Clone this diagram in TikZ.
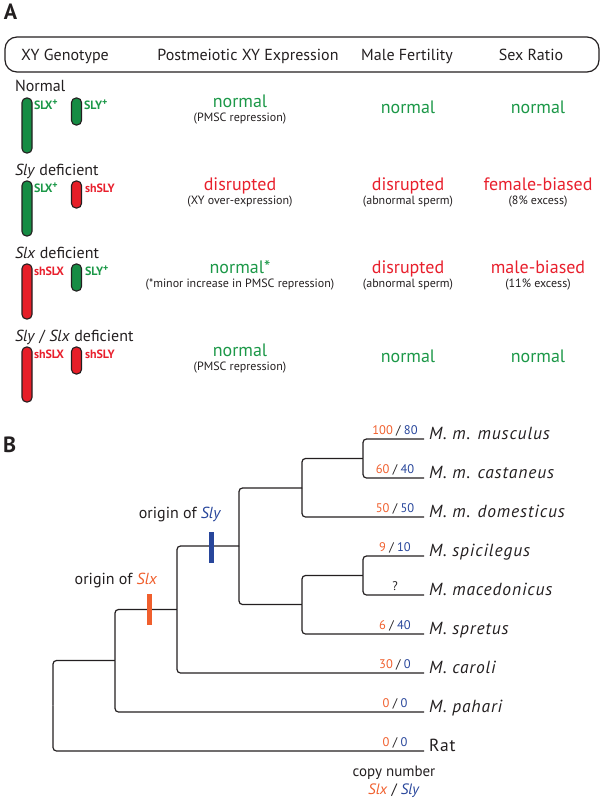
\documentclass[tikz,border=0pt]{standalone}
\usepackage{fontspec}
\setmainfont{PT Sans}
\newfontfamily\spacedfont[LetterSpace=5]{PT Sans}
\definecolor{ink}{RGB}{35,31,32}
\definecolor{tgreen}{RGB}{28,152,72}
\definecolor{cgreen}{RGB}{22,140,68}
\definecolor{tred}{RGB}{232,32,45}
\definecolor{cred}{RGB}{230,30,40}
\definecolor{corange}{RGB}{240,95,45}
\definecolor{cblue}{RGB}{40,70,155}
\newcommand\fpanel{\fontsize{22}{24}\bfseries\selectfont}
\newcommand\fhead{\fontsize{16}{19}\selectfont}
\newcommand\flab{\fontsize{16}{19}\selectfont}
\newcommand\fmainx{\fontsize{18}{21}\selectfont}
\newcommand\fsubx{\fontsize{12}{14}\selectfont}
\newcommand\fchr{\fontsize{12}{14}\bfseries\selectfont}
\newcommand\fsp{\spacedfont\fontsize{17.5}{20}\itshape\selectfont}
\newcommand\frat{\spacedfont\fontsize{17.5}{20}\selectfont}
\newcommand\fnum{\fontsize{12.5}{14}\selectfont}
\newcommand\plus{\raisebox{3.5pt}{\fontsize{10}{10}\selectfont +}}
\begin{document}
\begin{tikzpicture}[x=1pt,y=-1pt,
  txt/.style={inner sep=0pt, outer sep=0pt, text=ink},
  panel/.style={txt, anchor=base west, font=\fpanel},
  head/.style={txt, anchor=base, font=\fhead},
  rowlab/.style={txt, anchor=base west, font=\flab},
  mainok/.style={txt, anchor=base, font=\fmainx, text=tgreen},
  mainbad/.style={txt, anchor=base, font=\fmainx, text=tred},
  subt/.style={txt, anchor=base, font=\fsubx},
  chrlabg/.style={txt, anchor=base west, font=\fchr, text=tgreen},
  chrlabr/.style={txt, anchor=base west, font=\fchr, text=tred},
  chromo/.style={draw=ink, line width=1.1pt, rounded corners=4.5pt, minimum width=10pt, inner sep=0pt},
  branch/.style={draw=ink, line width=1.2pt, rounded corners=3.5pt},
  sp/.style={txt, anchor=base west, font=\fsp},
  num/.style={txt, anchor=base, font=\fnum},
  marker/.style={draw=none, minimum width=5pt, minimum height=31pt, inner sep=0pt}
]
\useasboundingbox (0,0) rectangle (606,800);

% ---------- Panel A ----------
\node[panel] (A) at (4,20) {A};
\node[draw=ink, line width=1.2pt, rounded corners=12pt, minimum width=594pt, minimum height=35pt, inner sep=0pt] (hbox) at (302,54.5) {};
\node[head] (h1) at (65,60.5) {XY Genotype};
\node[head] (h2) at (248,60.5) {Postmeiotic XY Expression};
\node[head] (h3) at (407,60.5) {Male Fertility};
\node[head] (h4) at (531,60.5) {Sex Ratio};

% Row 1: Normal
\node[rowlab] (l0) at (15,92) {Normal};
\node[chromo, fill=cgreen, minimum height=55pt] (x0) at (27,125.5) {};
\node[chromo, fill=cgreen, minimum height=27pt] (y0) at (76.5,111.5) {};
\node[chrlabg] (sx0) at (34,109) {SLX\plus};
\node[chrlabg] (sy0) at (84,109) {SLY\plus};
\node[mainok] (e0) at (240,107) {normal};
\node[subt] (es0) at (240,121) {(PMSC repression)};
\node[mainok] (f0) at (408,113) {normal};
\node[mainok] (r0) at (538,113) {normal};

% Row 2: Sly deficient
\node[rowlab] (l1) at (15,175) {\textit{Sly} deficient};
\node[chromo, fill=cgreen, minimum height=55pt] (x1) at (27,208.5) {};
\node[chromo, fill=cred, minimum height=27pt] (y1) at (76.5,194.5) {};
\node[chrlabg] (sx1) at (34,192) {SLX\plus};
\node[chrlabr] (sy1) at (85,192) {shSLY};
\node[mainbad] (e1) at (240,190) {disrupted};
\node[subt] (es1) at (240,204) {(XY over-expression)};
\node[mainbad] (f1) at (408,190) {disrupted};
\node[subt] (fs1) at (408,204) {(abnormal sperm)};
\node[mainbad] (r1) at (538,190) {female-biased};
\node[subt] (rs1) at (538,204) {(8\% excess)};

% Row 3: Slx deficient
\node[rowlab] (l2) at (15,258) {\textit{Slx} deficient};
\node[chromo, fill=cred, minimum height=55pt] (x2) at (27,291.5) {};
\node[chromo, fill=cgreen, minimum height=27pt] (y2) at (76.5,277.5) {};
\node[chrlabr] (sx2) at (34,275) {shSLX};
\node[chrlabg] (sy2) at (85,275) {SLY\plus};
\node[mainok] (e2) at (240,273) {normal*};
\node[subt] (es2) at (240,287) {(*minor increase in PMSC repression)};
\node[mainbad] (f2) at (408,273) {disrupted};
\node[subt] (fs2) at (408,287) {(abnormal sperm)};
\node[mainbad] (r2) at (538,273) {male-biased};
\node[subt] (rs2) at (538,287) {(11\% excess)};

% Row 4: Sly / Slx deficient
\node[rowlab] (l3) at (15,341) {\textit{Sly} / \textit{Slx} deficient};
\node[chromo, fill=cred, minimum height=55pt] (x3) at (27,374.5) {};
\node[chromo, fill=cred, minimum height=27pt] (y3) at (76.5,360.5) {};
\node[chrlabr] (sx3) at (34,358) {shSLX};
\node[chrlabr] (sy3) at (85,358) {shSLY};
\node[mainok] (e3) at (240,356) {normal};
\node[subt] (es3) at (240,370) {(PMSC repression)};
\node[mainok] (f3) at (408,362) {normal};
\node[mainok] (r3) at (538,362) {normal};

% ---------- Panel B ----------
\node[panel] (B) at (3,452) {B};

% leaf ends
\coordinate (lmus) at (424,439);
\coordinate (lcas) at (424,478);
\coordinate (ldom) at (424,517);
\coordinate (lspi) at (424,556);
\coordinate (lmac) at (424,595);
\coordinate (lspr) at (424,634);
\coordinate (lcar) at (424,673);
\coordinate (lpah) at (424,712);
\coordinate (lrat) at (424,751);
% internal nodes
\coordinate (nMC) at (363,458.5);
\coordinate (nMM) at (302,488);
\coordinate (nSM) at (363,575.5);
\coordinate (nSS) at (302,604.5);
\coordinate (nMS) at (239,546);
\coordinate (nCA) at (177,609.5);
\coordinate (nPA) at (115,660.5);
\coordinate (nRT) at (53,705.5);

\draw[branch] (nMC) |- (lmus);
\draw[branch] (nMC) |- (lcas);
\draw[branch] (nMM) |- (nMC);
\draw[branch] (nMM) |- (ldom);
\draw[branch] (nSM) |- (lspi);
\draw[branch] (nSM) |- (lmac);
\draw[branch] (nSS) |- (nSM);
\draw[branch] (nSS) |- (lspr);
\draw[branch] (nMS) |- (nMM);
\draw[branch] (nMS) |- (nSS);
\draw[branch] (nCA) |- (nMS);
\draw[branch] (nCA) |- (lcar);
\draw[branch] (nPA) |- (nCA);
\draw[branch] (nPA) |- (lpah);
\draw[branch] (nRT) |- (nPA);
\draw[branch] (nRT) |- (lrat);

% origin markers
\node[marker, fill=cblue] (msly) at (211,547) {};
\node[marker, fill=corange] (mslx) at (149,609.5) {};
\node[txt, anchor=base, font=\flab] (osly) at (180,518) {origin of \textcolor{cblue}{\textit{Sly}}};
\node[txt, anchor=base, font=\flab] (oslx) at (116,584) {origin of \textcolor{corange}{\textit{Slx}}};

% species names
\node[sp] (tmus) at (429,439) {M. m. musculus};
\node[sp] (tcas) at (429,478) {M. m. castaneus};
\node[sp] (tdom) at (429,517) {M. m. domesticus};
\node[sp] (tspi) at (429,556) {M. spicilegus};
\node[sp] (tmac) at (429,595) {M. macedonicus};
\node[sp] (tspr) at (429,634) {M. spretus};
\node[sp] (tcar) at (429,673) {M. caroli};
\node[sp] (tpah) at (429,712) {M. pahari};
\node[txt, anchor=base west, font=\frat] (trat) at (429,751) {Rat};

% copy numbers
\node[num] (cmus) at (395,434) {\textcolor{corange}{100} / \textcolor{cblue}{80}};
\node[num] (ccas) at (395,473) {\textcolor{corange}{60} / \textcolor{cblue}{40}};
\node[num] (cdom) at (395,512) {\textcolor{corange}{50} / \textcolor{cblue}{50}};
\node[num] (cspi) at (395,551) {\textcolor{corange}{9} / \textcolor{cblue}{10}};
\node[num] (cmac) at (395,590) {?};
\node[num] (cspr) at (395,629) {\textcolor{corange}{6} / \textcolor{cblue}{40}};
\node[num] (ccar) at (395,668) {\textcolor{corange}{30} / \textcolor{cblue}{0}};
\node[num] (cpah) at (395,707) {\textcolor{corange}{0} / \textcolor{cblue}{0}};
\node[num] (crat) at (395,746) {\textcolor{corange}{0} / \textcolor{cblue}{0}};

\node[txt, anchor=base, font=\fontsize{15}{17}\selectfont] (cpy) at (394,776) {copy number};
\node[txt, anchor=base, font=\fontsize{15}{17}\selectfont] (cpy2) at (394,794) {\textcolor{corange}{\textit{Slx}} / \textcolor{cblue}{\textit{Sly}}};
\end{tikzpicture}
\end{document}
